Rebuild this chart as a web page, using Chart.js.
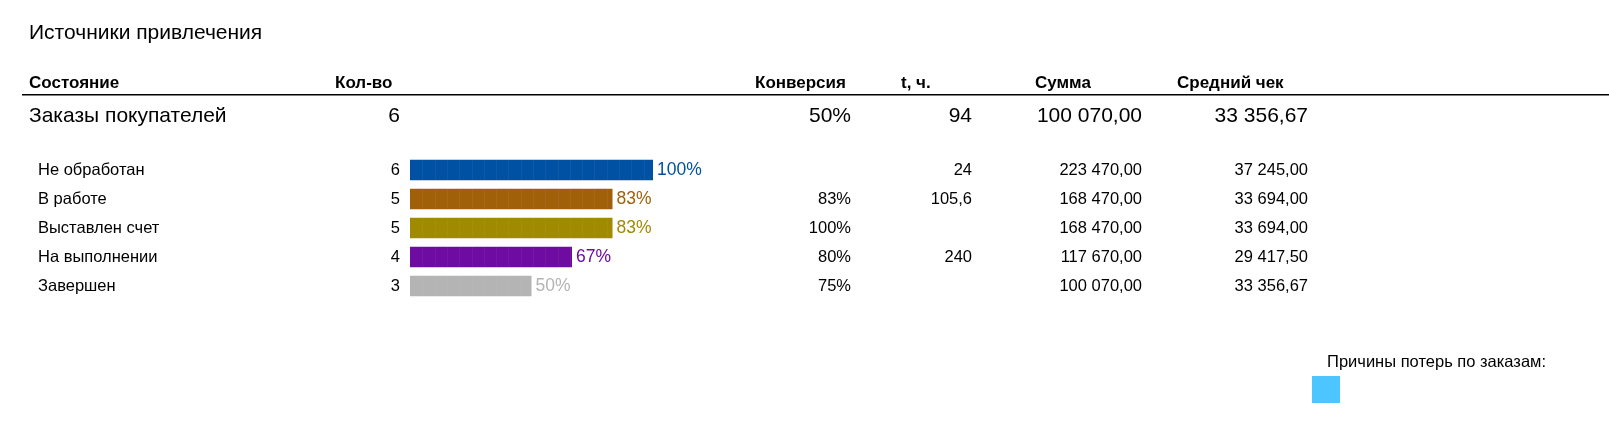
<!DOCTYPE html>
<html><head><meta charset="utf-8">
<script src="https://cdn.jsdelivr.net/npm/chart.js@4"></script>
<style>html,body{margin:0;padding:0;background:#fff;overflow:hidden}</style>
</head><body>
<canvas id="c" width="1609" height="437"></canvas>
<script>
const title = "Источники привлечения";
const headers = ["Состояние","Кол-во","Конверсия","t, ч.","Сумма","Средний чек"];
const totalRow = ["Заказы покупателей","6","50%","94","100 070,00","33 356,67"];
const categories = ["Не обработан","В работе","Выставлен счет","На выполнении","Завершен"];
const counts = [6,5,5,4,3];
const shares = ["100%","83%","83%","67%","50%"];
const conversions = ["","83%","100%","80%","75%"];
const hours = ["24","105,6","","240",""];
const sums = ["223 470,00","168 470,00","168 470,00","117 670,00","100 070,00"];
const avgChecks = ["37 245,00","33 694,00","33 694,00","29 417,50","33 356,67"];
const colors = ["#0051a3","#a0600a","#a08a00","#6e0ba0","#b4b4b4"];
const legendTitle = "Причины потерь по заказам:";
const legendColor = "#4dc6ff";

const F = '"Liberation Sans", Arial, sans-serif';
const textPlugin = {
  id:'txt',
  afterDatasetsDraw(chart){
    const ctx = chart.ctx;
    const xs = chart.scales.x, ys = chart.scales.y;
    ctx.save();
    ctx.textBaseline='middle';
    const meta = chart.getDatasetMeta(0);
    meta.data.forEach((b,i)=>{
      ctx.strokeStyle='rgba(255,255,255,0.05)';ctx.lineWidth=1;
      for(let x=b.base+12.3;x<b.x-2;x+=12.3){
        ctx.beginPath();ctx.moveTo(Math.round(x)+0.5,b.y-b.height/2);ctx.lineTo(Math.round(x)+0.5,b.y+b.height/2);ctx.stroke();
      }
    });
    ctx.fillStyle='#000';ctx.textAlign='left';
    ctx.font='21px '+F; ctx.fillText(title,29,33);
    ctx.font='bold 17px '+F;
    ctx.fillText(headers[0],29,83); ctx.fillText(headers[1],335,83);
    ctx.fillText(headers[2],755,83); ctx.fillText(headers[3],901,83);
    ctx.fillText(headers[4],1035,83); ctx.fillText(headers[5],1177,83);
    ctx.fillRect(22,94,1587,1.5);
    ctx.font='21px '+F;
    ctx.fillText(totalRow[0],29,116);
    ctx.textAlign='right';
    const rx=[400,851,972,1142,1308];
    for(let k=1;k<6;k++) ctx.fillText(totalRow[k],rx[k-1],116);
    categories.forEach((c,i)=>{
      const y=ys.getPixelForValue(i);
      ctx.font='16.5px '+F;
      ctx.fillStyle='#000';
      ctx.textAlign='left'; ctx.fillText(c,38,y);
      ctx.textAlign='right';
      ctx.fillText(String(counts[i]),400,y);
      ctx.fillText(conversions[i],851,y);
      ctx.fillText(hours[i],972,y);
      ctx.fillText(sums[i],1142,y);
      ctx.fillText(avgChecks[i],1308,y);
      ctx.textAlign='left'; ctx.fillStyle=colors[i];
      ctx.font='17.5px '+F;
      ctx.fillText(shares[i],xs.getPixelForValue(counts[i])+4,y);
    });
    ctx.font='16.5px '+F;
    ctx.fillStyle='#000';ctx.textAlign='right';
    ctx.fillText(legendTitle,1546,362);
    ctx.fillStyle=legendColor; ctx.fillRect(1312,376,28,27);
    ctx.restore();
  }
};
new Chart(document.getElementById('c'),{
  type:'bar',
  data:{labels:categories,datasets:[{data:counts,backgroundColor:colors,borderWidth:0,barPercentage:0.7,categoryPercentage:1}]},
  options:{indexAxis:'y',responsive:false,animation:false,devicePixelRatio:1,
    layout:{padding:{left:410,right:956,top:155.5,bottom:136.5}},
    plugins:{legend:{display:false},tooltip:{enabled:false}},
    scales:{x:{display:false,min:0,max:6},y:{display:false}}},
  plugins:[textPlugin]
});
</script>
</body></html>
